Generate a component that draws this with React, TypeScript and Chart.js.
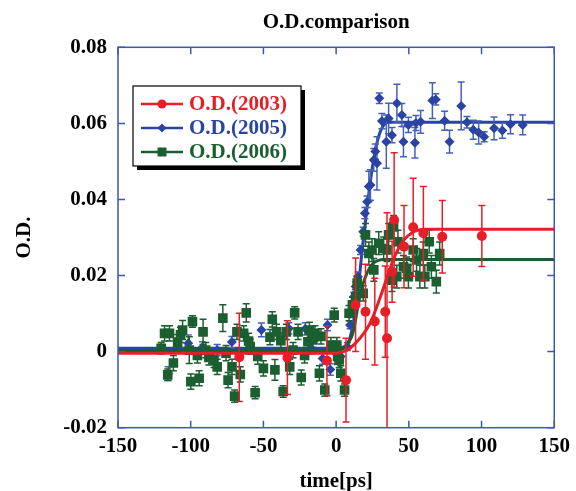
import React, { useEffect, useRef } from 'react';
import { Chart, registerables } from 'chart.js';
Chart.register(...registerables);

const FONT = "'Liberation Serif', 'Times New Roman', serif";
const RED = '#e61e28';
const BLUE = '#2b43a3';
const BLUE_ERR = '#4461b8';
const GREEN = '#1b5e30';
const AXIS = '#3d56b9';

// ---- O.D.(2003) ----
const t2003 = [-66.6, -33.5, -6.3, 6.8, 13.4, 20.2, 26.6, 33.8, 35.0, 38.5, 39.9, 46.7, 53.0, 60.0, 73.0, 100.2];
const od2003 = [-0.0015, -0.0016, -0.0024, -0.0075, 0.0123, 0.0105, 0.0079, 0.0105, 0.0035, 0.021, 0.0346, 0.0276, 0.0327, 0.0311, 0.0302, 0.0304];
const err2003 = [0.0116, 0.0097, 0.0092, 0.011, 0.0123, 0.0125, 0.0114, 0.012, 0.033, 0.008, 0.0177, 0.0108, 0.0129, 0.0123, 0.0095, 0.008];
const fitT2003 = [-150, 0, 8, 14, 19, 23, 27, 31, 35, 39, 43, 47, 52, 57, 62, 150];
const fitOd2003 = [-0.0004, -0.0004, 0.0005, 0.0025, 0.0048, 0.0072, 0.0108, 0.015, 0.0195, 0.0238, 0.0272, 0.0295, 0.0312, 0.032, 0.0322, 0.0322];

// ---- O.D.(2005) ----
const t2005 = [-115.5, -101.7, -92, -81.8, -71.7, -51.4, -32.5, -21.2, -17.2, -9.3, -5.9, -4, -1.3, 1, 3.2, 7.7, 9.6, 10, 12.3, 13.4, 15, 16.8, 18.6, 19.8, 21.3, 22.5, 23.6, 25.9, 27, 28.1, 29.7, 31.5, 34.5, 36.1, 38.4, 41.8, 45.2, 46.3, 49.7, 54.2, 54.9, 58.1, 66.2, 68.5, 74.6, 78, 86, 90, 94.3, 98, 101.8, 108.6, 114.3, 119.9, 128.3];
const od2005 = [-0.0058, 0.0022, 0.0011, 0.0004, 0.0025, 0.0057, 0.0061, 0.006, 0.0009, -0.0018, 0.007, -0.0047, 0.0013, -0.0022, -0.0013, 0.0013, 0.007, 0.01, 0.0144, 0.0171, 0.0197, 0.0267, 0.0315, 0.0364, 0.0394, 0.0434, 0.0438, 0.0504, 0.0526, 0.0495, 0.0666, 0.0606, 0.0552, 0.0613, 0.0569, 0.0653, 0.0622, 0.0552, 0.0596, 0.0549, 0.0601, 0.0604, 0.066, 0.0663, 0.0607, 0.0552, 0.0646, 0.0603, 0.0583, 0.0576, 0.0565, 0.0587, 0.0581, 0.0598, 0.0596];
const err2005 = [0.0018, 0.0022, 0.0015, 0.0015, 0.0015, 0.0018, 0.0015, 0.0016, 0.0015, 0.0015, 0.0015, 0.0015, 0.0012, 0.0012, 0.0012, 0.001, 0.001, 0.001, 0.0012, 0.0012, 0.0012, 0.0012, 0.0012, 0.0015, 0.0015, 0.004, 0.004, 0.003, 0.002, 0.007, 0.0014, 0.002, 0.007, 0.004, 0.002, 0.005, 0.003, 0.004, 0.002, 0.004, 0.002, 0.003, 0.0047, 0.0015, 0.0025, 0.003, 0.0063, 0.0015, 0.0025, 0.003, 0.0013, 0.003, 0.002, 0.0025, 0.0026];
const fitT2005 = [-150, 0, 6, 9, 12, 15, 18, 21, 24, 27, 30, 33, 36, 150];
const fitOd2005 = [0.0009, 0.0009, 0.0013, 0.003, 0.008, 0.016, 0.027, 0.037, 0.046, 0.053, 0.0575, 0.0597, 0.0603, 0.0603];

// ---- O.D.(2006) ----
const t2006 = [-120.3, -118, -115.8, -114.6, -111.9, -109, -107, -105.6, -101, -99.9, -98.8, -95.4, -94.2, -91.5, -89.7, -87.5, -84, -81.8, -77.9, -75.7, -74.3, -71.6, -69.8, -68.2, -65.9, -63.6, -61.8, -60.2, -59.1, -55.7, -53.9, -50, -45.5, -43.9, -42.1, -41, -38, -36.4, -34.2, -31.9, -29.6, -28.5, -26.2, -24, -21.7, -19.4, -18.3, -16, -14.5, -11.5, -10.4, -7.8, -3.6, -1.3, 0.5, 1, 2.1, 3.2, 5.8, 8.9, 11.2, 13.4, 14.5, 18.6, 20.2, 22.5, 24.7, 25.9, 29.3, 32.7, 35, 36.1, 38.4, 39.5, 41.7, 42.5, 46.3, 48.5, 49.7, 53, 55.3, 57.6, 59.9, 61, 64, 65.5, 68.9, 71.2];
const od2006 = [0.0009, 0.0048, -0.0061, 0.0048, -0.003, 0.0025, 0.0044, 0.0057, 0.0004, -0.0079, 0.0079, -0.001, -0.007, 0.0052, 0.0004, -0.0015, -0.0022, -0.004, 0.0088, -0.0004, -0.0075, -0.004, -0.0117, 0.0052, -0.006, 0.0048, 0.0102, 0.0028, 0.0013, -0.0108, -0.0013, -0.0044, 0.0038, 0.0085, -0.0048, 0.0052, 0.0029, -0.0105, 0.0052, -0.004, 0.0004, 0.0102, 0.0052, -0.0068, -0.001, 0.0026, 0.0057, 0.0031, 0.0048, -0.0057, 0.004, -0.0101, 0.0017, 0.0096, 0.0017, -0.0013, -0.0022, -0.0057, -0.0101, 0.0101, 0.0123, 0.0144, 0.018, 0.0153, 0.0307, 0.0258, 0.0267, 0.0215, 0.0285, 0.0271, 0.0267, 0.0307, 0.0188, 0.0328, 0.0197, 0.0289, 0.0223, 0.0219, 0.0197, 0.0267, 0.0241, 0.0197, 0.0258, 0.0197, 0.0289, 0.0223, 0.0184, 0.0258];
const err2006 = [0.0015, 0.002, 0.0015, 0.002, 0.002, 0.002, 0.002, 0.0025, 0.0035, 0.002, 0.0015, 0.002, 0.002, 0.0033, 0.002, 0.002, 0.002, 0.002, 0.0035, 0.002, 0.002, 0.002, 0.0016, 0.002, 0.002, 0.002, 0.0024, 0.002, 0.002, 0.0016, 0.002, 0.002, 0.002, 0.002, 0.0027, 0.002, 0.002, 0.0015, 0.002, 0.002, 0.002, 0.0016, 0.002, 0.002, 0.002, 0.002, 0.002, 0.002, 0.002, 0.002, 0.002, 0.0016, 0.002, 0.0018, 0.002, 0.002, 0.002, 0.002, 0.0016, 0.002, 0.002, 0.002, 0.002, 0.002, 0.003, 0.003, 0.003, 0.003, 0.003, 0.003, 0.003, 0.003, 0.003, 0.003, 0.003, 0.003, 0.003, 0.003, 0.003, 0.003, 0.003, 0.003, 0.003, 0.003, 0.003, 0.003, 0.003, 0.003];
const fitT2006 = [-150, 0, 5, 8, 11, 13, 15, 17, 20, 23, 26, 29, 33, 150];
const fitOd2006 = [0.0003, 0.0003, 0.0008, 0.0022, 0.0042, 0.0075, 0.012, 0.0158, 0.0195, 0.022, 0.0234, 0.024, 0.0242, 0.0242];

const xTicks = [-150, -100, -50, 0, 50, 100, 150];
const yTicks = [-0.02, 0, 0.02, 0.04, 0.06, 0.08];
const chartTitle = 'O.D.comparison';
const xTitle = 'time[ps]';
const yTitle = 'O.D.';
const legendLabels = ['O.D.(2003)', 'O.D.(2005)', 'O.D.(2006)'];

const W = 576;
const H = 491;

const pts = (xs: number[], ys: number[]) => xs.map((x, i) => ({ x, y: ys[i] }));

function drawMarker(ctx: CanvasRenderingContext2D, style: string, x: number, y: number, color: string) {
  ctx.fillStyle = color;
  ctx.beginPath();
  if (style === 'circle') {
    ctx.arc(x, y, 4.5, 0, Math.PI * 2);
  } else if (style === 'rectRot') {
    ctx.moveTo(x, y - 4.5);
    ctx.lineTo(x + 4.5, y);
    ctx.lineTo(x, y + 4.5);
    ctx.lineTo(x - 4.5, y);
    ctx.closePath();
  } else {
    ctx.rect(x - 4.5, y - 4.5, 9, 9);
  }
  ctx.fill();
}

const errorBarPlugin = {
  id: 'errorBars',
  beforeDatasetDraw(chart: any, args: any) {
    const ds = chart.data.datasets[args.index];
    if (!ds.errors) return;
    const { ctx, chartArea, scales } = chart;
    ctx.save();
    ctx.beginPath();
    ctx.rect(chartArea.left, chartArea.top, chartArea.right - chartArea.left, chartArea.bottom - chartArea.top);
    ctx.clip();
    ctx.strokeStyle = ds.errorColor;
    ctx.lineWidth = 1.5;
    ds.data.forEach((p: any, i: number) => {
      const e = ds.errors[i];
      const px = scales.x.getPixelForValue(p.x);
      const y1 = scales.y.getPixelForValue(p.y + e);
      const y2 = scales.y.getPixelForValue(p.y - e);
      ctx.beginPath();
      ctx.moveTo(px, y1);
      ctx.lineTo(px, y2);
      ctx.moveTo(px - 3.5, y1);
      ctx.lineTo(px + 3.5, y1);
      ctx.moveTo(px - 3.5, y2);
      ctx.lineTo(px + 3.5, y2);
      ctx.stroke();
    });
    ctx.restore();
  },
};

const decorPlugin = {
  id: 'decor',
  afterDraw(chart: any) {
    const { ctx, chartArea, scales } = chart;
    const { left, right, top, bottom } = chartArea;
    ctx.save();
    // frame
    ctx.strokeStyle = AXIS;
    ctx.lineWidth = 1.5;
    ctx.strokeRect(left, top, right - left, bottom - top);
    ctx.beginPath();
    xTicks.forEach((v) => {
      const x = scales.x.getPixelForValue(v);
      ctx.moveTo(x, bottom);
      ctx.lineTo(x, bottom - 7);
      ctx.moveTo(x, top);
      ctx.lineTo(x, top + 7);
    });
    yTicks.forEach((v) => {
      const y = scales.y.getPixelForValue(v);
      ctx.moveTo(left, y);
      ctx.lineTo(left + 7, y);
      ctx.moveTo(right, y);
      ctx.lineTo(right - 7, y);
    });
    ctx.stroke();

    // titles
    ctx.fillStyle = '#000';
    ctx.font = `bold 21px ${FONT}`;
    ctx.textAlign = 'center';
    ctx.textBaseline = 'alphabetic';
    ctx.fillText(chartTitle, (left + right) / 2, 28);
    ctx.fillText(xTitle, (left + right) / 2, 487);
    ctx.save();
    ctx.translate(30, (top + bottom) / 2);
    ctx.rotate(-Math.PI / 2);
    ctx.fillText(yTitle, 0, 0);
    ctx.restore();

    // legend
    const bx = 133, by = 86, bw = 168, bh = 80;
    ctx.fillStyle = '#000';
    ctx.fillRect(bx + 4, by + 4, bw, bh);
    ctx.fillStyle = '#fff';
    ctx.fillRect(bx, by, bw, bh);
    ctx.strokeStyle = '#000';
    ctx.lineWidth = 1.2;
    ctx.strokeRect(bx, by, bw, bh);
    const colors = [RED, BLUE, GREEN];
    const styles = ['circle', 'rectRot', 'rect'];
    const rows = [104, 128, 152];
    rows.forEach((ry, i) => {
      ctx.strokeStyle = colors[i];
      ctx.lineWidth = 2.5;
      ctx.beginPath();
      ctx.moveTo(141, ry);
      ctx.lineTo(183, ry);
      ctx.stroke();
      drawMarker(ctx, styles[i], 162, ry, colors[i]);
      ctx.fillStyle = colors[i];
      ctx.font = `bold 21px ${FONT}`;
      ctx.textAlign = 'left';
      ctx.textBaseline = 'middle';
      ctx.fillText(legendLabels[i], 189, ry + 1);
    });
    ctx.restore();
  },
};

export default function App() {
  const ref = useRef<HTMLCanvasElement | null>(null);
  useEffect(() => {
    document.body.style.margin = '0';
    const canvas = ref.current;
    if (!canvas) return;
    const fitDs = (xs: number[], ys: number[], color: string) => ({
      data: pts(xs, ys),
      showLine: true,
      borderColor: color,
      backgroundColor: color,
      borderWidth: 3,
      pointRadius: 0,
      cubicInterpolationMode: 'monotone',
    });
    const ptDs = (xs: number[], ys: number[], errs: number[], color: string, errColor: string, style: string, r: number) => ({
      data: pts(xs, ys),
      errors: errs,
      errorColor: errColor,
      showLine: false,
      pointStyle: style,
      pointRadius: r,
      backgroundColor: color,
      borderColor: color,
      borderWidth: 0,
    });
    const tickFont = { family: FONT, size: 21, weight: 'bold' as const };
    const chart = new Chart(canvas, {
      type: 'scatter',
      data: {
        datasets: [
          ptDs(t2003, od2003, err2003, RED, RED, 'circle', 5),
          fitDs(fitT2003, fitOd2003, RED),
          ptDs(t2006, od2006, err2006, GREEN, GREEN, 'rect', 6.8),
          fitDs(fitT2006, fitOd2006, GREEN),
          ptDs(t2005, od2005, err2005, BLUE, BLUE_ERR, 'rectRot', 5),
          fitDs(fitT2005, fitOd2005, BLUE),
        ] as any,
      },
      options: {
        responsive: false,
        animation: false,
        events: [],
        layout: { padding: { top: 47.3, right: 17, left: 0, bottom: 0 } },
        plugins: {
          legend: { display: false },
          tooltip: { enabled: false },
          title: { display: false },
        },
        scales: {
          x: {
            type: 'linear',
            min: -150,
            max: 150,
            afterBuildTicks: (s: any) => {
              s.ticks = xTicks.map((v) => ({ value: v }));
            },
            afterFit: (s: any) => {
              s.height = H - 427.7;
            },
            grid: { display: false, drawTicks: false },
            border: { display: false },
            ticks: {
              font: tickFont,
              color: '#000',
              padding: 6,
              maxRotation: 0,
              autoSkip: false,
              callback: (v: any) => String(v),
            },
          },
          y: {
            type: 'linear',
            min: -0.02,
            max: 0.08,
            afterBuildTicks: (s: any) => {
              s.ticks = yTicks.map((v) => ({ value: v }));
            },
            afterFit: (s: any) => {
              s.width = 118;
            },
            grid: { display: false, drawTicks: false },
            border: { display: false },
            ticks: {
              font: tickFont,
              color: '#000',
              padding: 11,
              autoSkip: false,
              callback: (v: any) => String(Math.round(Number(v) * 100) / 100),
            },
          },
        },
      } as any,
      plugins: [errorBarPlugin, decorPlugin],
    });
    return () => chart.destroy();
  }, []);
  return (
    <div style={{ width: W, height: H, background: '#fff' }}>
      <canvas ref={ref} width={W} height={H} style={{ display: 'block' }} />
    </div>
  );
}
